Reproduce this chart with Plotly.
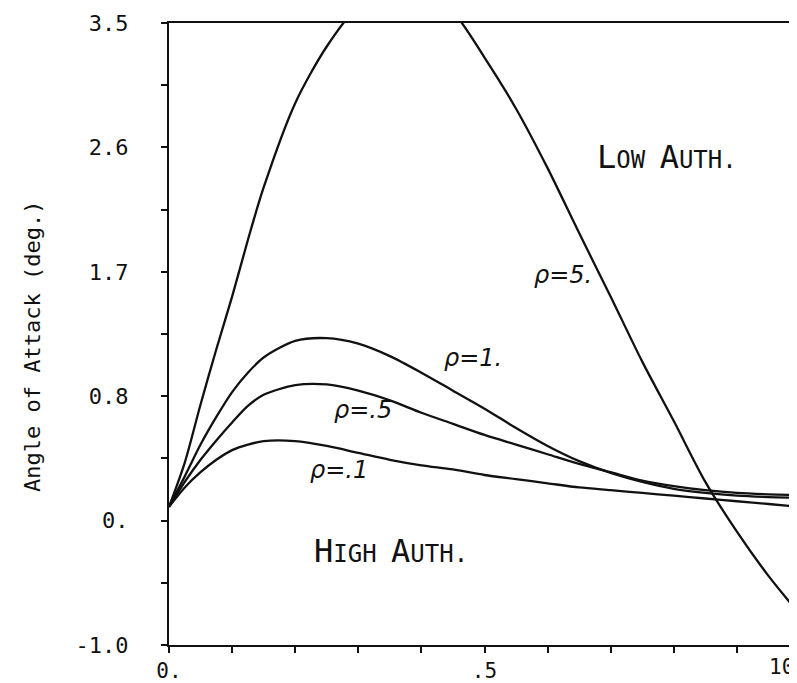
import plotly.graph_objects as go

# ---- data ----
time_x = [0, 0.025, 0.05, 0.075, 0.1, 0.125, 0.15, 0.2, 0.25, 0.3, 0.35, 0.4,
          0.45, 0.5, 0.55, 0.6, 0.65, 0.7, 0.75, 0.8, 0.85, 0.9, 0.95, 1.0]
rho_5 = [0, 0.32, 0.74, 1.14, 1.52, 1.93, 2.31, 2.92, 3.33, 3.62, 3.75, 3.73,
         3.58, 3.25, 2.88, 2.45, 1.98, 1.52, 1.05, 0.62, 0.18, -0.18, -0.50, -0.78]
rho_1 = [0, 0.22, 0.45, 0.65, 0.83, 0.97, 1.08, 1.20, 1.22, 1.18, 1.09, 0.97,
         0.84, 0.71, 0.57, 0.44, 0.33, 0.245, 0.18, 0.13, 0.10, 0.08, 0.07, 0.065]
rho_05 = [0, 0.18, 0.34, 0.48, 0.61, 0.73, 0.81, 0.88, 0.885, 0.84, 0.77, 0.68,
          0.60, 0.52, 0.45, 0.38, 0.31, 0.25, 0.19, 0.15, 0.12, 0.10, 0.09, 0.085]
rho_01 = [0, 0.14, 0.25, 0.34, 0.41, 0.45, 0.475, 0.475, 0.44, 0.39, 0.34, 0.30,
          0.27, 0.23, 0.20, 0.17, 0.14, 0.12, 0.10, 0.08, 0.06, 0.04, 0.02, 0.0]

series_names = ["ρ=5.", "ρ=1.", "ρ=.5", "ρ=.1"]

x_tickvals = [0, 0.1, 0.2, 0.3, 0.4, 0.5, 0.6, 0.7, 0.8, 0.9, 1.0]
x_ticktext = ["0.", "", "", "", "", ".5", "", "", "", "", ""]
x_end_label = (1.0, "10")   # last x tick label, right-aligned to its tick in the original
y_tickvals = [-1.0, -0.55, -0.1, 0.35, 0.8, 1.25, 1.7, 2.15, 2.6, 3.05, 3.5]
y_ticktext = ["-1.0", "", "0.", "", "0.8", "", "1.7", "", "2.6", "", "3.5"]

# label positions (data coords)
curve_labels = [("ρ=5.", 0.624, 1.68), ("ρ=1.", 0.482, 1.08),
                ("ρ=.5", 0.308, 0.70), ("ρ=.1", 0.269, 0.265)]

INK = "#111111"
MONO = "DejaVu Sans Mono"

fig = go.Figure()
for name, ys in zip(series_names, [rho_5, rho_1, rho_05, rho_01]):
    fig.add_trace(go.Scatter(x=time_x, y=ys, mode="lines", name=name,
                             line=dict(color=INK, width=2.3, shape="spline", smoothing=0.8)))

for txt, xx, yy in curve_labels:
    fig.add_annotation(x=xx, y=yy, xref="x", yref="y", text="<i>" + txt + "</i>",
                       showarrow=False, font=dict(family="DejaVu Sans", size=24, color=INK))

def small_caps(words):
    parts = []
    for w in words:
        parts.append('<span style="font-size:32px">' + w[0] + '</span>' + w[1:])
    return " ".join(parts)

fig.add_annotation(x=0.790, y=2.53, xref="x", yref="y", text=small_caps(["LOW", "AUTH."]),
                   showarrow=False, font=dict(family=MONO, size=24, color=INK))
fig.add_annotation(x=0.352, y=-0.317, xref="x", yref="y", text=small_caps(["HIGH", "AUTH."]),
                   showarrow=False, font=dict(family=MONO, size=24, color=INK))

fig.add_annotation(x=-0.2164, y=0.48, xref="paper", yref="paper", text="Angle of Attack (deg.)",
                   textangle=-90, showarrow=False, xanchor="center", yanchor="middle",
                   font=dict(family=MONO, size=22, color=INK))

# final x tick label, right-aligned at its tick
fig.add_annotation(x=x_end_label[0], y=0, xref="paper", yref="paper", text=x_end_label[1],
                   showarrow=False, xanchor="right", yanchor="top", yshift=-9, xshift=-5,
                   borderpad=0, font=dict(family=MONO, size=21, color=INK))

axis_common = dict(showgrid=False, zeroline=False, showline=True, linecolor=INK, linewidth=2,
                   mirror=True, ticks="outside", ticklen=6, tickwidth=2, tickcolor=INK)

fig.update_xaxes(range=[0, 1.0], tickmode="array", tickvals=x_tickvals, ticktext=x_ticktext,
                 ticklabelstandoff=0,
                 tickfont=dict(family=MONO, size=21, color=INK), **axis_common)
fig.update_yaxes(range=[-1.0, 3.5], tickmode="array", tickvals=y_tickvals, ticktext=y_ticktext,
                 ticklabelstandoff=28, tickfont=dict(family=MONO, size=22, color=INK),
                 **axis_common)

fig.update_layout(width=797, height=683, margin=dict(l=161, r=3, t=14, b=46),
                  plot_bgcolor="white", paper_bgcolor="white", showlegend=False)

fig.write_html("out.html")
